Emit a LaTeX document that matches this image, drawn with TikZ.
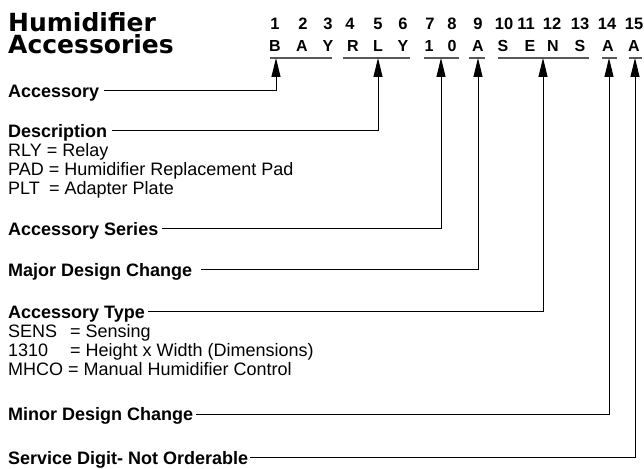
\documentclass[tikz,border=0pt]{standalone}
\usepackage{fontspec}
\setmainfont{Liberation Sans}
\newfontfamily\titlefont{DejaVu Sans}
\usetikzlibrary{arrows.meta}

\tikzset{
  titl/.style={font=\titlefont\bfseries\fontsize{25}{22}\selectfont, inner sep=0pt, align=left, anchor=north west},
  digitnum/.style={font=\bfseries\fontsize{16.5}{16.5}\selectfont, inner sep=0pt, anchor=base},
  code/.style={font=\bfseries\fontsize{16}{16}\selectfont, inner sep=0pt, anchor=base},
  lbl/.style={font=\bfseries\fontsize{18}{18}\selectfont, inner sep=0pt, text height=13pt, text depth=0pt, anchor=base west},
  txt/.style={font=\fontsize{18}{18}\selectfont, inner sep=0pt, anchor=base west},
  uline/.style={draw=black!65, line width=1.3pt},
  conn/.style={draw=black, line width=1pt, -{Triangle[length=19pt,width=9pt]}},
}

\begin{document}
\begin{tikzpicture}[x=1pt,y=-1pt]
\useasboundingbox (0,0) rectangle (644,468);

%title
\node[titl] (title) at (8,12.5) {Humidifier\\Accessories};

%digit positions and code
\foreach \n/\x in {1/275,2/303,3/328,4/350,5/378,6/403,7/430,8/452,9/478,10/504,11/526,12/552,13/580,14/607,15/634}
  \node[digitnum] (p\n) at (\x,30) {\n};
\foreach \c/\x [count=\i] in {B/275,A/302,Y/328,R/353,L/378,Y/403,1/429,0/452,A/478,S/503,E/530,N/553,S/580,A/608,A/634}
  \node[code] (c\i) at (\x,52) {\c};

%underlines
\draw[uline] (270,58) -- (332,58);
\draw[uline] (343,58) -- (410,58);
\draw[uline] (424,58) -- (459,58);
\draw[uline] (469,58) -- (485,58);
\draw[uline] (498,58) -- (589,58);
\draw[uline] (602,58) -- (617,58);
\draw[uline] (629,58) -- (642,58);

%arrow tips
\coordinate (aAcc) at (276,58);
\coordinate (aDesc) at (378,58);
\coordinate (aSer) at (441,58);
\coordinate (aMaj) at (478,58);
\coordinate (aTyp) at (543,58);
\coordinate (aMin) at (609,58);
\coordinate (aSvc) at (635,58);

%labels
\node[lbl] (acc) at (8,97.5) {Accessory};
\node[lbl] (desc) at (8,137) {Description};
\node[txt] (rly) at (8,156) {RLY = Relay};
\node[txt] (pad) at (8,175) {PAD = Humidifier Replacement Pad};
\node[txt] (plt) at (8,194) {\makebox[41pt][l]{PLT}= Adapter Plate};
\node[lbl] (ser) at (8,235) {Accessory Series};
\node[lbl] (maj) at (8,276) {Major Design Change};
\node[lbl] (typ) at (8,318) {Accessory Type};
\node[txt] (sens) at (8,337) {\makebox[62pt][l]{SENS}= Sensing};
\node[txt] (dim) at (8,356) {\makebox[62pt][l]{1310}= Height x Width (Dimensions)};
\node[txt] (mhco) at (8,375) {MHCO = Manual Humidifier Control};
\node[lbl] (min) at (8,420.5) {Minor Design Change};
\node[lbl] (svc) at (8,464) {Service Digit- Not Orderable};

%connecting them
\draw[conn] ([xshift=5pt]acc.east) -| (aAcc);
\draw[conn] ([xshift=5pt]desc.east) -| (aDesc);
\draw[conn] ([xshift=3pt]ser.east) -| (aSer);
\draw[conn] ([xshift=9pt]maj.east) -| (aMaj);
\draw[conn] ([xshift=3pt]typ.east) -| (aTyp);
\draw[conn] ([xshift=3pt]min.east) -| (aMin);
\draw[conn] ([xshift=2pt]svc.east) -| (aSvc);
\end{tikzpicture}
\end{document}
